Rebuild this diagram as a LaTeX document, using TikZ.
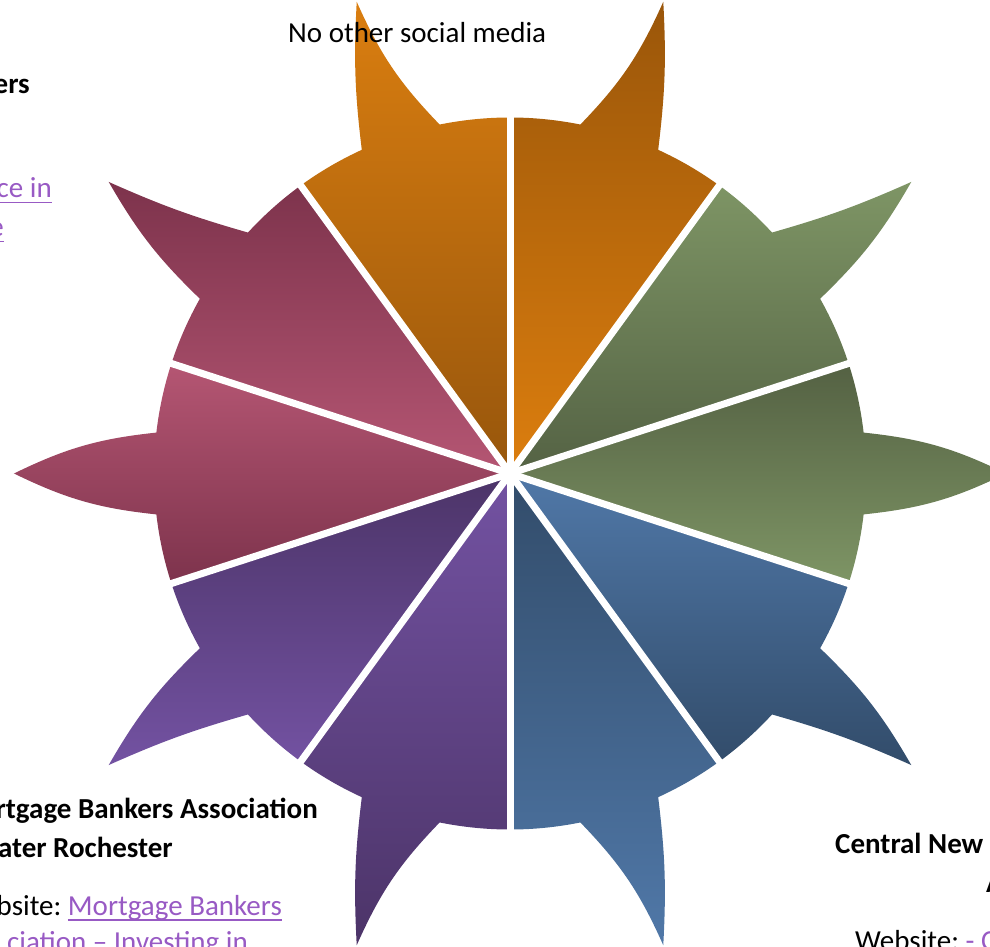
\documentclass[tikz,border=0pt]{standalone}
\usepackage{fontspec}
\setmainfont{Carlito}
\definecolor{lnk}{RGB}{152,90,196}
\definecolor{cAt}{RGB}{154,86,10}   \definecolor{cAb}{RGB}{220,126,14}
\definecolor{cBt}{RGB}{218,126,16}  \definecolor{cBb}{RGB}{151,86,12}
\definecolor{cCt}{RGB}{126,149,101} \definecolor{cCb}{RGB}{84,98,68}
\definecolor{cDt}{RGB}{84,97,67}    \definecolor{cDb}{RGB}{126,149,101}
\definecolor{cEt}{RGB}{80,120,168}  \definecolor{cEb}{RGB}{50,76,106}
\definecolor{cFt}{RGB}{50,76,106}   \definecolor{cFb}{RGB}{80,120,168}
\definecolor{cGt}{RGB}{115,82,162}  \definecolor{cGb}{RGB}{76,52,104}
\definecolor{cHt}{RGB}{76,52,104}   \definecolor{cHb}{RGB}{115,82,162}
\definecolor{cIt}{RGB}{181,86,115}  \definecolor{cIb}{RGB}{125,51,76}
\definecolor{cJt}{RGB}{125,51,76}   \definecolor{cJb}{RGB}{181,86,115}
\newcommand{\lnkul}[1]{\setbox0\hbox{#1}\rlap{\rule[-5.5pt]{\wd0}{1.8pt}}\box0}
\tikzset{
  txt/.style={inner sep=0pt, font=\fontsize{29}{35}\selectfont},
  btxt/.style={txt, font=\fontsize{29}{35}\selectfont\bfseries},
  gapline/.style={white, line width=7pt}
}
\begin{document}
\begin{tikzpicture}[x=1pt,y=1pt]
\useasboundingbox (-510,-473.5) rectangle (480,473.5);
\clip (-510,-473.5) rectangle (480,473.5);
\foreach \m/\ct/\cb/\ba/\bb in {72/cAt/cAb/5/-10, 108/cBt/cBb/-10/5,
   36/cCt/cCb/8/-4, 0/cDt/cDb/10/10, -36/cEt/cEb/-4/8, -72/cFt/cFb/-10/5,
   252/cGt/cGb/5/-10, 216/cHt/cHb/8/-4, 180/cIt/cIb/10/10, 144/cJt/cJb/-4/8}{
  \shade[top color=\ct, bottom color=\cb]
    (0,0) -- ({\m-18}:356) arc[start angle={\m-18}, end angle={\m-6.6}, radius=356]
    to[bend right=\ba] (\m:496)
    to[bend right=\bb] ({\m+6.6}:356)
    arc[start angle={\m+6.6}, end angle={\m+18}, radius=356] -- cycle;
}
\foreach \a in {90,54,18,-18,-54,-90,-126,-162,162,126}
  \draw[gapline] (0,0) -- (\a:362);
\fill[white] (0,0) circle (4);
% texts
\node[txt, anchor=base west] (t1) at (-222,430.5) {No other social media};
\node[btxt, anchor=base east] (t2) at (-480,379.5) {ers};
\node[txt, anchor=base east, text=lnk] (t3) at (-458,275.5) {\lnkul{ce in}};
\node[txt, anchor=base east, text=lnk] (t4) at (-506,236.5) {\lnkul{e}};
\node[btxt, anchor=base east] (t5) at (-192,-344.5) {rtgage Bankers Association};
\node[btxt, anchor=base east] (t6) at (-337,-383.5) {ater Rochester};
\node[txt, anchor=base east] (t7) at (-228,-441.5) {bsite:~\textcolor{lnk}{\lnkul{Mortgage Bankers}}};
\node[txt, anchor=base east, text=lnk] (t8) at (-262,-477.5) {\lnkul{ciation – Investing in}};
\node[btxt, anchor=base west] (t9) at (325,-379.5) {Central New};
\node[btxt, anchor=base west] (t10) at (476,-418.5) {A};
\node[txt, anchor=base west] (t11) at (345,-476.5) {Website:~\textcolor{lnk}{\lnkul{- C}}};
\end{tikzpicture}
\end{document}
